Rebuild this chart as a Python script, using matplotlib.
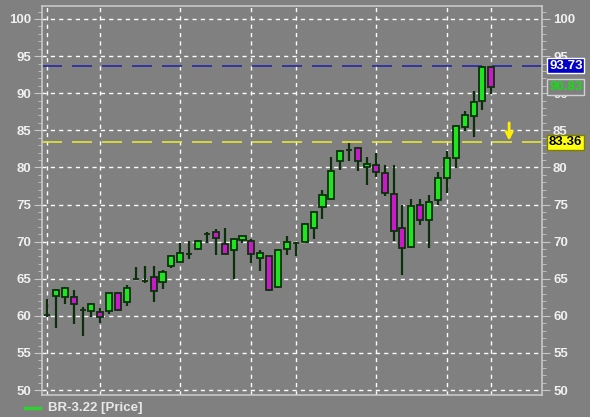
import matplotlib
matplotlib.use("Agg")
import matplotlib.pyplot as plt
import numpy as np

plt.rcParams['font.family'] = ['Liberation Sans', 'DejaVu Sans']

opens  = [60.1, 62.7, 62.6, 62.6, 60.8, 60.6, 60.55, 60.6, 63.1, 61.9,
          64.9, 64.7, 65.2, 64.5, 66.7, 67.3, 68.3, 69.0, 71.0, 71.25,
          69.7, 68.9, 70.2, 70.1, 67.75, 68.0, 63.9, 69.0, 69.85, 70.0,
          71.8, 74.6, 75.8, 80.8, 82.35, 82.6, 80.1, 80.3, 79.2, 76.4,
          71.9, 69.3, 74.9, 72.9, 75.6, 78.6, 81.2, 85.5, 86.9, 88.95, 93.5]
highs  = [62.3, 63.6, 63.9, 63.5, 61.2, 61.7, 61.0, 63.1, 63.2, 64.1,
          66.6, 66.7, 66.7, 66.2, 68.2, 69.8, 70.1, 70.2, 71.3, 71.7,
          71.9, 70.5, 70.8, 70.3, 68.9, 68.1, 69.0, 70.7, 70.0, 72.5,
          74.1, 76.9, 81.4, 82.3, 83.3, 82.8, 81.4, 82.0, 80.3, 80.3,
          74.9, 75.8, 75.8, 76.3, 79.4, 82.25, 85.7, 87.6, 90.3, 93.6, 93.73]
lows   = [59.9, 58.4, 61.6, 58.9, 57.3, 59.9, 59.0, 60.3, 60.6, 61.3,
          64.8, 64.4, 61.9, 63.6, 66.4, 67.2, 67.6, 68.9, 69.8, 68.2,
          68.3, 65.0, 69.8, 67.1, 66.0, 63.4, 63.8, 68.2, 68.0, 69.9,
          70.3, 73.1, 75.7, 79.7, 80.9, 79.55, 77.6, 78.7, 76.1, 70.1,
          65.5, 69.2, 72.2, 69.1, 74.9, 76.6, 79.9, 84.9, 84.1, 87.7, 89.85]
closes = [60.1, 63.5, 63.8, 61.6, 60.8, 61.6, 59.8, 63.1, 60.8, 63.7,
          64.9, 64.7, 63.3, 65.9, 68.1, 68.4, 68.3, 70.1, 71.0, 70.5,
          68.3, 70.4, 70.7, 68.3, 68.4, 63.5, 68.9, 70.0, 69.85, 72.4,
          74.0, 76.3, 79.55, 82.2, 82.35, 80.8, 80.4, 79.4, 76.6, 71.4,
          69.2, 74.8, 72.9, 75.4, 78.6, 81.3, 85.6, 87.0, 88.85, 93.5, 90.83]

vgrid_idx = [0, 6, 15, 23, 28, 37, 45, 50]
yticks = [50, 55, 60, 65, 70, 75, 80, 85, 90, 95, 100]
high_level = 93.73
last_close = 90.83
yellow_level = 83.36
legend_label = "BR-3.22 [Price]"

BG = "#808080"
FG = "#f0f0f0"
SP = "#c8c8c8"
GREEN = "#1ee61e"
MAGENTA = "#cc18cc"
EDGE = "#0c300c"

fig = plt.figure(figsize=(5.9, 4.17), dpi=100, facecolor=BG)
ax = fig.add_axes([42/590, 1-395/417, 500/590, 389/417])
ax.set_facecolor(BG)

x = np.arange(len(opens))
o = np.array(opens); c = np.array(closes)
h = np.array(highs); l = np.array(lows)
up = c >= o
ax.vlines(x, l, h, color=EDGE, lw=1.6, zorder=3)
bottoms = np.minimum(o, c)
heights = np.abs(c - o)
colors = [GREEN if u else MAGENTA for u in up]
ax.bar(x, heights, bottom=bottoms, width=0.68, color=colors,
       edgecolor=EDGE, linewidth=1.3, zorder=4)

# grid
for yt in yticks:
    ax.axhline(yt, color="white", lw=1, ls=(0, (3, 3)), zorder=1)
for vi in vgrid_idx:
    ax.axvline(vi, color="white", lw=1, ls=(0, (3, 3)), zorder=1)

# level lines
ax.axhline(high_level, color="#2828a8", lw=1.2, ls=(0, (12, 6)), zorder=2)
ax.axhline(yellow_level, color="#e6e632", lw=1.2, ls=(0, (12, 6)), zorder=2)

# arrow
ax.annotate("", xy=(52, 83.6), xytext=(52, 86.0),
            arrowprops=dict(arrowstyle="->", color="#ffee00", lw=2.0,
                            mutation_scale=11, shrinkA=0, shrinkB=0), zorder=6)

ax.set_xlim(-0.56, 55.7)
ax.set_ylim(49.33, 101.75)

ax.set_yticks(yticks)
ax.set_yticks(np.arange(50, 102, 1), minor=True)
ax.set_xticks([])
ax.tick_params(axis="y", which="major", length=6, color=SP, labelcolor=FG,
               labelsize=9.5, left=True, right=True, labelleft=True,
               labelright=True, pad=2)
ax.tick_params(axis="y", which="minor", length=3, color=SP, left=True, right=True)
for lab in ax.get_yticklabels(which="major"):
    lab.set_fontweight("bold")
for lab in ax.yaxis.get_ticklabels(which="major"):
    lab.set_fontweight("bold")
for t in ax.yaxis.get_major_ticks():
    t.label1.set_fontweight("bold")
    t.label2.set_fontweight("bold")
for s in ax.spines.values():
    s.set_color(SP)
    s.set_linewidth(1.2)

# value labels on right
tr = ax.get_yaxis_transform()
ax.text(1.014, high_level, f"{high_level:.2f}", transform=tr, ha="left", va="center",
        fontsize=9.5, fontweight="bold", color="white", clip_on=False,
        bbox=dict(boxstyle="square,pad=0.12", fc="#0000c8", ec="white", lw=1), zorder=10)
ax.text(1.014, last_close, f"{last_close:.2f}", transform=tr, ha="left", va="center",
        fontsize=9.5, fontweight="bold", color="#10e010", clip_on=False,
        bbox=dict(boxstyle="square,pad=0.12", fc=BG, ec="#d0d0d0", lw=1), zorder=10)
ax.text(1.014, yellow_level, f"{yellow_level:.2f}", transform=tr, ha="left", va="center",
        fontsize=9.5, fontweight="bold", color="black", clip_on=False,
        bbox=dict(boxstyle="square,pad=0.12", fc="#ffff10", ec="#808000", lw=1), zorder=10)

# legend
fig.add_artist(plt.Line2D([25/590, 40/590], [1-408/417, 1-408/417], color="#30d030", lw=2.5))
fig.text(48/590, 1-408/417, legend_label, ha="left", va="center", fontsize=9.5,
         fontweight="bold", color="#e8e8e8")

fig.savefig("out.png", dpi=100, facecolor=BG)
